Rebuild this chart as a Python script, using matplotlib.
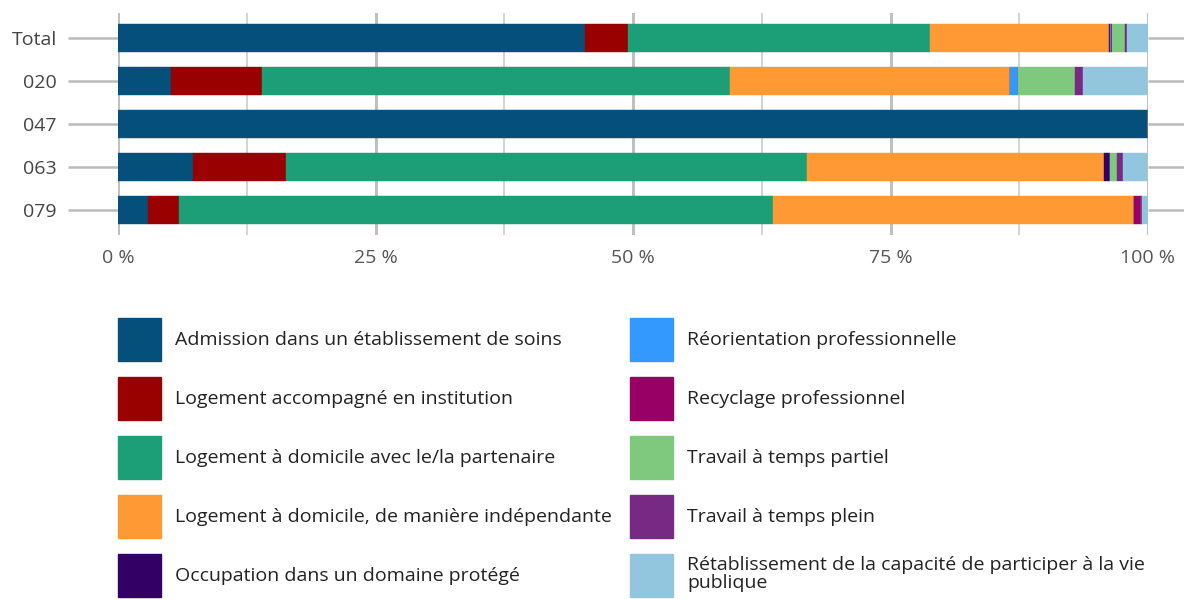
import numpy as np
import matplotlib
matplotlib.use("Agg")
import matplotlib.pyplot as plt
from matplotlib.patches import Patch

plt.rcParams['font.family'] = ['Open Sans', 'DejaVu Sans']

#   Data (share in %)
categories = ['Total', '020', '047', '063', '079']
series = [
    'Admission dans un établissement de soins',
    'Logement accompagné en institution',
    'Logement à domicile avec le/la partenaire',
    'Logement à domicile, de manière indépendante',
    'Occupation dans un domaine protégé',
    'Réorientation professionnelle',
    'Recyclage professionnel',
    'Travail à temps partiel',
    'Travail à temps plein',
    'Rétablissement de la capacité de participer à la vie\npublique',
]
admission      = [45.3, 5.15, 100.0, 7.3, 2.9]
accompagne     = [4.2, 8.8, 0.0, 9.0, 3.0]
partenaire     = [29.3, 45.5, 0.0, 50.6, 57.7]
independant    = [17.4, 27.2, 0.0, 28.8, 35.0]
occupation     = [0.1, 0.0, 0.0, 0.6, 0.0]
reorientation  = [0.1, 0.7, 0.0, 0.0, 0.0]
recyclage      = [0.15, 0.0, 0.0, 0.0, 0.7]
partiel        = [1.25, 5.6, 0.0, 0.65, 0.0]
plein          = [0.2, 0.7, 0.0, 0.6, 0.1]
retablissement = [2.0, 6.3, 0.0, 2.4, 0.7]
values = [admission, accompagne, partenaire, independant, occupation,
          reorientation, recyclage, partiel, plein, retablissement]
colors = ['#054f7b', '#990000', '#1c9e77', '#ff9933', '#330066',
          '#3399ff', '#990066', '#7fc97f', '#762a83', '#92c5de']

xticks = [0, 25, 50, 75, 100]
xlabels = ['0 %', '25 %', '50 %', '75 %', '100 %']

#   Figure
fig = plt.figure(figsize=(11.84, 5.99), dpi=100)
ax = fig.add_axes([118/1184, 1 - 235/599, 1030/1184, 222/599])

y = np.arange(len(categories))
left = np.zeros(len(categories))
for vals, col in zip(values, colors):
    vals = np.array(vals)
    ax.barh(y, vals, left=left, height=0.63, color=col, zorder=3,
            edgecolor=col, linewidth=0.3)
    left += vals

ax.set_xlim(0, 100)
ax.set_ylim(len(categories) - 0.42, -0.58)
ax.set_yticks(y)
ax.set_yticklabels(categories)
ax.set_xticks(xticks)
ax.set_xticklabels(xlabels)
ax.set_xticks([12.5, 37.5, 62.5, 87.5], minor=True)

for s in ax.spines.values():
    s.set_visible(False)

ax.grid(axis='x', which='major', color='#c0c0c0', linewidth=2.2, zorder=1)
ax.grid(axis='x', which='minor', color='#d4d4d4', linewidth=1.4, zorder=1)
ax.tick_params(axis='x', which='both', length=0, pad=10, labelsize=14,
               labelcolor='#555555')
ax.tick_params(axis='y', left=True, right=True, length=36, width=1.8,
               color='#bbbbbb', pad=8, labelsize=14, labelcolor='#444444')
for t in ax.yaxis.get_major_ticks():
    t.tick1line.set_zorder(0)
    t.tick2line.set_zorder(0)

#   Legend in two columns
handles = [Patch(facecolor=c, edgecolor=c) for c in colors]
leg_kw = dict(loc='upper left', frameon=False, fontsize=14, borderpad=0,
              borderaxespad=0, handlelength=2.2, handleheight=3.03,
              handletextpad=0.75, labelspacing=0.82)
leg1 = fig.legend(handles[:5], series[:5],
                  bbox_to_anchor=(118/1184, 1 - 318/599), **leg_kw)
leg2 = fig.legend(handles[5:], series[5:],
                  bbox_to_anchor=(630/1184, 1 - 318/599), **leg_kw)
for leg in (leg1, leg2):
    for txt in leg.get_texts():
        txt.set_color('#222222')
        txt.set_linespacing(1.0)

fig.savefig('out.png', dpi=100)
